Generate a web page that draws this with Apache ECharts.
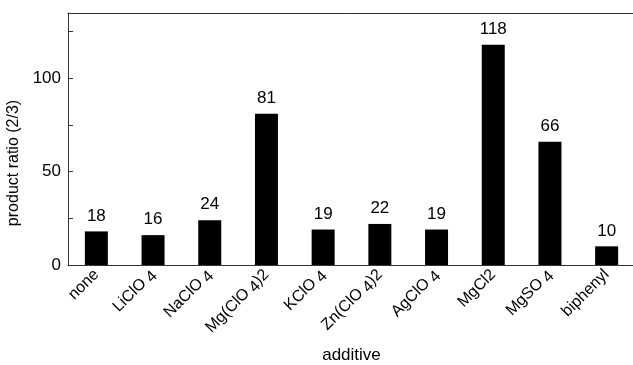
<!DOCTYPE html>
<html><head><meta charset="utf-8">
<script src="https://cdn.jsdelivr.net/npm/echarts@6/dist/echarts.min.js"></script>
<style>html,body{margin:0;padding:0;background:#fff}#c{width:633px;height:365px}</style>
</head><body><div id="c"></div>
<script>
const categories = ['none','LiClO4','NaClO4','Mg(ClO4)2','KClO4','Zn(ClO4)2','AgClO4','MgCl2','MgSO4','biphenyl'];
const ratios = [18,16,24,81,19,22,19,118,66,10];
const yTickLabels = [0,50,100];

const chart = echarts.init(document.getElementById('c'));
const F = 'Liberation Sans, Arial, sans-serif';
function fmt(s){
  return s.replace(/O4/g,'O{s|4}');
}
chart.setOption({
  animation:false,
  grid:{left:68, top:13, width:567, height:252, outerBoundsMode:'none', containLabel:false},
  xAxis:[{
    type:'category', data:categories,
    axisLine:{lineStyle:{color:'#333',width:1}},
    axisTick:{inside:true,length:5,alignWithLabel:false,lineStyle:{color:'#333'}},
    axisLabel:{rotate:45,fontFamily:F,fontSize:16,color:'#000',margin:7,interval:0,
      formatter:fmt, rich:{s:{fontFamily:F,fontSize:16,color:'#000',padding:[5,0,0,4]}}},
    name:'additive', nameLocation:'middle', nameGap:82,
    nameTextStyle:{fontFamily:F,fontSize:17,color:'#000'}
  },{
    type:'category', position:'top', data:categories,
    axisLine:{show:true,lineStyle:{color:'#333',width:1}},
    axisTick:{show:false}, axisLabel:{show:false}
  }],
  yAxis:{
    type:'value', min:0, max:135, interval:25,
    splitLine:{show:false},
    axisLine:{show:true,lineStyle:{color:'#333',width:1}},
    axisTick:{show:true,inside:true,length:5,lineStyle:{color:'#333'}},
    axisLabel:{fontFamily:F,fontSize:17,color:'#000',margin:7,
      formatter:v=>yTickLabels.includes(v)?String(v):'' },
    name:'product ratio (2/3)', nameLocation:'middle', nameGap:35, nameRotate:90,
    nameTextStyle:{fontFamily:F,fontSize:16,color:'#000',padding:[0,48,0,0]}
  },
  series:[{
    type:'bar', data:ratios, barWidth:23,
    itemStyle:{color:'#000'},
    label:{show:true,position:'top',distance:7,fontFamily:F,fontSize:17,color:'#000'}
  }]
});
</script></body></html>
